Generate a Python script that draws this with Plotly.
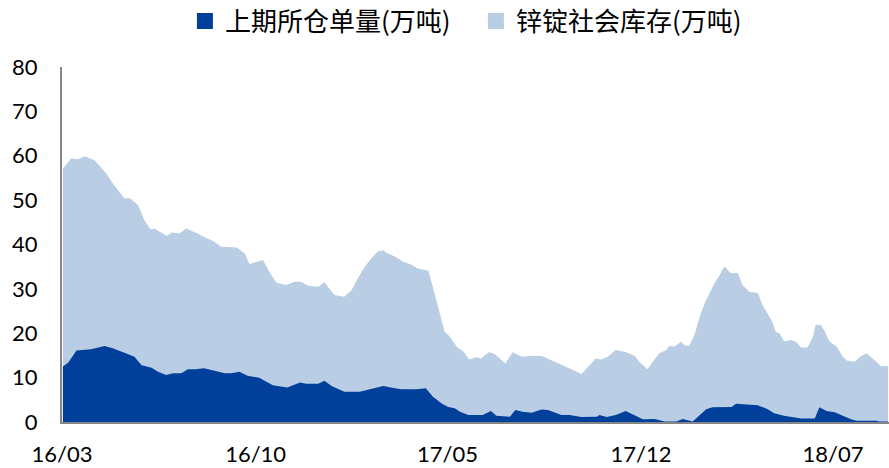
import plotly.graph_objects as go

# 锌锭社会库存(万吨)
social_dates = [
    "2016-03-02", "2016-03-11", "2016-03-19", "2016-03-26", "2016-04-06", "2016-04-15",
    "2016-04-19", "2016-04-26", "2016-05-02", "2016-05-09", "2016-05-15", "2016-05-24",
    "2016-05-31", "2016-06-07", "2016-06-11", "2016-06-19", "2016-06-25", "2016-06-30",
    "2016-07-09", "2016-07-16", "2016-07-22", "2016-07-29", "2016-08-05", "2016-08-07",
    "2016-08-15", "2016-08-24", "2016-09-10", "2016-09-19", "2016-09-24", "2016-10-09",
    "2016-10-16", "2016-10-24", "2016-11-04", "2016-11-13", "2016-11-20", "2016-11-28",
    "2016-12-09", "2016-12-16", "2016-12-27", "2017-01-07", "2017-01-15", "2017-01-22",
    "2017-01-29", "2017-02-06", "2017-02-13", "2017-02-19", "2017-02-24", "2017-03-05",
    "2017-03-13", "2017-03-22", "2017-03-29", "2017-04-10", "2017-04-19", "2017-04-28",
    "2017-05-03", "2017-05-12", "2017-05-18", "2017-05-25", "2017-06-02", "2017-06-07",
    "2017-06-16", "2017-06-22", "2017-06-28", "2017-07-04", "2017-07-12", "2017-07-22",
    "2017-07-31", "2017-08-13", "2017-08-22", "2017-09-02", "2017-09-09", "2017-09-18",
    "2017-09-26", "2017-10-05", "2017-10-12", "2017-10-18", "2017-10-25", "2017-11-03",
    "2017-11-14", "2017-11-24", "2017-11-29", "2017-12-08", "2017-12-14", "2017-12-21",
    "2017-12-29", "2018-01-01", "2018-01-07", "2018-01-14", "2018-01-18", "2018-01-23",
    "2018-01-29", "2018-02-05", "2018-02-11", "2018-02-20", "2018-02-26", "2018-03-03",
    "2018-03-10", "2018-03-18", "2018-03-23", "2018-03-31", "2018-04-09", "2018-04-14",
    "2018-04-24", "2018-04-29", "2018-05-03", "2018-05-08", "2018-05-16", "2018-05-21",
    "2018-05-27", "2018-06-03", "2018-06-09", "2018-06-12", "2018-06-18", "2018-06-23",
    "2018-06-27", "2018-07-05", "2018-07-12", "2018-07-17", "2018-07-25", "2018-07-31",
    "2018-08-07", "2018-08-12", "2018-08-18", "2018-08-23", "2018-08-31",
]
social_stock = [
    57.1, 59.4, 59.2, 59.9, 59.0, 56.8,
    56.0, 53.8, 52.3, 50.4, 50.4, 48.9,
    45.5, 43.4, 43.6, 42.6, 41.9, 42.7,
    42.5, 43.6, 43.1, 42.5, 41.7, 41.5,
    40.8, 39.5, 39.3, 38.0, 35.6, 36.5,
    33.9, 31.4, 30.9, 31.6, 31.6, 30.7,
    30.5, 31.5, 28.6, 28.2, 29.7, 32.4,
    34.8, 36.9, 38.4, 38.7, 38.0, 37.2,
    36.1, 35.5, 34.6, 34.1, 27.5, 20.3,
    19.4, 16.8, 16.0, 14.1, 14.6, 14.3,
    15.8, 15.3, 14.3, 13.2, 15.7, 14.7,
    14.9, 14.9, 14.1, 13.1, 12.6, 11.6,
    10.8, 12.8, 14.3, 14.1, 14.7, 16.2,
    15.8, 14.9, 13.6, 11.9, 13.6, 15.5,
    16.2, 17.1, 17.0, 18.1, 17.3, 17.1,
    19.6, 24.5, 27.5, 31.2, 33.1, 35.1,
    33.5, 33.6, 30.9, 29.3, 29.1, 26.4,
    23.0, 20.3, 20.0, 18.2, 18.5, 18.1,
    16.8, 16.8, 19.2, 22.0, 21.8, 20.0,
    18.2, 17.0, 14.7, 13.8, 13.6, 14.7,
    15.5, 14.7, 13.6, 12.6, 12.6,
]

# 上期所仓单量(万吨)
shfe_dates = [
    "2016-03-02", "2016-03-08", "2016-03-17", "2016-04-02", "2016-04-17", "2016-04-26",
    "2016-05-09", "2016-05-20", "2016-05-28", "2016-06-08", "2016-06-15", "2016-06-24",
    "2016-07-02", "2016-07-11", "2016-07-18", "2016-07-26", "2016-08-05", "2016-08-17",
    "2016-08-28", "2016-09-04", "2016-09-13", "2016-09-22", "2016-10-05", "2016-10-20",
    "2016-10-29", "2016-11-05", "2016-11-19", "2016-11-26", "2016-12-09", "2016-12-16",
    "2016-12-24", "2016-12-29", "2017-01-07", "2017-01-24", "2017-02-04", "2017-02-19",
    "2017-03-04", "2017-03-11", "2017-03-28", "2017-04-07", "2017-04-15", "2017-04-25",
    "2017-05-02", "2017-05-09", "2017-05-15", "2017-05-24", "2017-06-09", "2017-06-18",
    "2017-06-24", "2017-07-09", "2017-07-15", "2017-07-23", "2017-08-02", "2017-08-13",
    "2017-08-20", "2017-09-04", "2017-09-13", "2017-09-26", "2017-10-13", "2017-10-16",
    "2017-10-24", "2017-11-03", "2017-11-14", "2017-11-24", "2017-12-03", "2017-12-16",
    "2017-12-27", "2018-01-09", "2018-01-16", "2018-01-27", "2018-02-11", "2018-02-18",
    "2018-03-11", "2018-03-16", "2018-04-09", "2018-04-20", "2018-04-27", "2018-05-08",
    "2018-05-16", "2018-05-27", "2018-06-11", "2018-06-16", "2018-06-24", "2018-07-03",
    "2018-07-12", "2018-07-21", "2018-07-27", "2018-08-18", "2018-08-21", "2018-08-31",
]
shfe_warrants = [
    12.5, 13.4, 16.1, 16.4, 17.1, 16.6,
    15.6, 14.7, 12.8, 12.2, 11.3, 10.6,
    11.0, 11.0, 11.9, 11.9, 12.1, 11.6,
    11.0, 11.0, 11.3, 10.4, 10.0, 8.3,
    8.1, 7.8, 8.9, 8.6, 8.6, 9.3,
    8.1, 7.6, 6.8, 6.8, 7.4, 8.1,
    7.6, 7.4, 7.4, 7.6, 5.7, 4.1,
    3.4, 3.1, 2.3, 1.6, 1.6, 2.5,
    1.4, 1.2, 2.7, 2.3, 2.1, 2.8,
    2.7, 1.6, 1.6, 1.1, 1.2, 1.6,
    1.1, 1.6, 2.5, 1.4, 0.6, 0.7,
    0.1, 0.1, 0.7, 0.1, 2.9, 3.3,
    3.4, 4.1, 3.8, 2.9, 2.0, 1.4,
    1.1, 0.8, 0.8, 3.3, 2.5, 2.2,
    1.4, 0.6, 0.3, 0.3, 0.1, 0.1,
]

tick_dates = ["2016-03-01", "2016-10-01", "2017-05-01", "2017-12-01", "2018-07-01"]
tick_text = ["16/03", "16/10", "17/05", "17/12", "18/07"]

DARK = "#00409A"
LIGHT = "#B9CDE5"

fig = go.Figure()
fig.add_trace(go.Scatter(x=social_dates, y=social_stock, mode="lines",
                         fill="tozeroy", fillcolor=LIGHT,
                         line=dict(width=0, color=LIGHT), showlegend=False))
fig.add_trace(go.Scatter(x=shfe_dates, y=shfe_warrants, mode="lines",
                         fill="tozeroy", fillcolor=DARK,
                         line=dict(width=0, color=DARK), showlegend=False))

# legend entries with square swatches
fig.add_trace(go.Scatter(x=[None], y=[None], mode="markers", name="上期所仓单量(万吨)",
                         marker=dict(symbol="square", size=20, color=DARK)))
fig.add_trace(go.Scatter(x=[None], y=[None], mode="markers", name="锌锭社会库存(万吨)",
                         marker=dict(symbol="square", size=20, color=LIGHT)))

fig.update_layout(
    width=889, height=468,
    margin=dict(l=62, r=0, t=67, b=46),
    paper_bgcolor="white", plot_bgcolor="white",
    font=dict(family="Lato, Noto Sans CJK SC, sans-serif", size=22, color="#000000"),
    legend=dict(orientation="h", xref="container", x=0.208, xanchor="left",
                yref="container", y=0.955, yanchor="middle",
                font=dict(size=26, family="Noto Sans CJK SC"),
                itemsizing="trace", entrywidth=246, bgcolor="rgba(0,0,0,0)"),
    xaxis=dict(type="date", range=["2016-03-01", "2018-09-01"],
               tickmode="array", tickvals=tick_dates, ticktext=tick_text,
               showgrid=False, zeroline=False, showline=True, automargin=False,
               linecolor="#868686", linewidth=2, ticks="", ticklabelstandoff=12),
    yaxis=dict(range=[0, 80], dtick=10, showgrid=False, zeroline=False,
               showline=True, linecolor="#868686", linewidth=2, ticks="",
               automargin=False, ticklabelstandoff=18),
)

# drop the page's default body margin so the figure sits at the window corner
fig.write_html("out.html", config={"displayModeBar": False},
               post_script="document.body.style.margin='0';")
